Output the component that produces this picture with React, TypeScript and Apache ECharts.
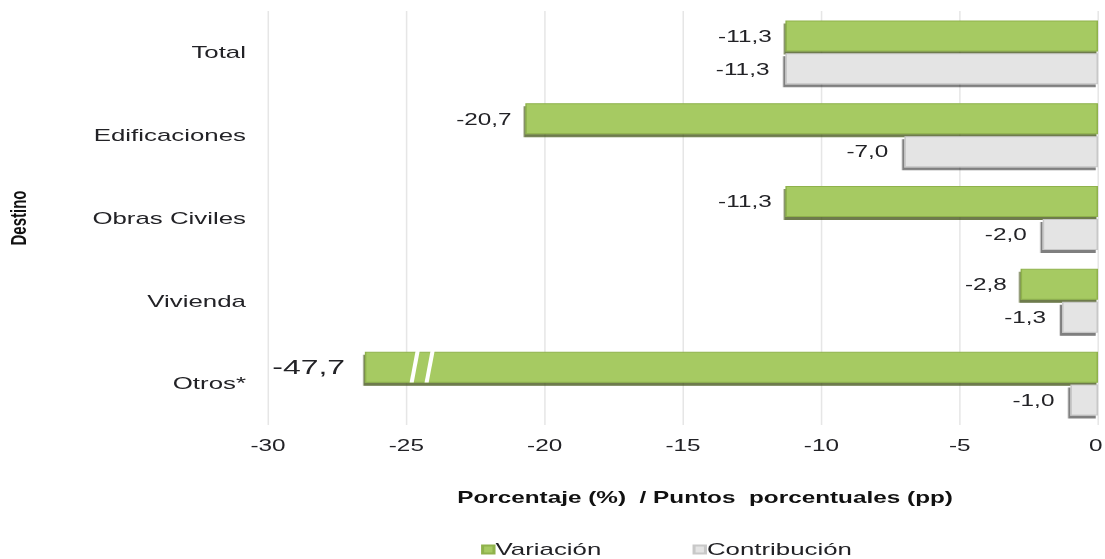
import React, { useEffect, useRef } from "react";
import * as echarts from "echarts";

const categories = ["Total", "Edificaciones", "Obras Civiles", "Vivienda", "Otros*"];
const variacion = [-11.3, -20.7, -11.3, -2.8, -47.7];
const contribucion = [-11.3, -7.0, -2.0, -1.3, -1.0];
const displayCap = -26.5; // bars beyond this value are drawn truncated with a break mark
const breakAt = [-24.7, -24.16];
const xTicks = { min: -30, max: 0, interval: 5 };

// the reference picture is stretched horizontally; reproduce by drawing in a narrower frame
const STRETCH = 1.52;
const PAGE_W = 1105;
const PAGE_H = 559;
const W = PAGE_W / STRETCH;

const fmt = (v: number) => v.toFixed(1).replace(".", ",");

export default function App() {
  const ref = useRef<HTMLDivElement>(null);
  useEffect(() => {
    if (!ref.current) return;
    const chart = echarts.init(ref.current, null, { renderer: "svg" });
    const font = "Liberation Sans, Arial, sans-serif";
    const textColor = "#222226";
    const varData = variacion.map((v) => ({
      value: Math.max(v, displayCap),
      raw: v,
      label: v < displayCap ? { fontSize: 21, distance: 13 } : undefined,
    }));
    chart.setOption({
      animation: false,
      grid: {
        left: 268 / STRETCH,
        right: 7 / STRETCH,
        top: 11,
        height: 414,
        outerBoundsMode: "none",
        containLabel: false,
      },
      xAxis: {
        type: "value",
        min: xTicks.min,
        max: xTicks.max,
        interval: xTicks.interval,
        axisLine: { show: false },
        axisTick: { show: false },
        splitLine: { lineStyle: { color: "#E6E6E6", width: 1 } },
        axisLabel: {
          color: textColor,
          fontSize: 16,
          fontFamily: font,
          margin: 12,
          formatter: (v: number) => (v === 0 ? "{z|0}" : String(v)),
          rich: { z: { color: textColor, fontSize: 16, fontFamily: font, padding: [0, 3, 0, 0] } },
        },
        name: "Porcentaje (%)  / Puntos  porcentuales (pp)",
        nameLocation: "middle",
        nameGap: 64,
        nameTextStyle: {
          color: "#111",
          fontSize: 16,
          fontWeight: "bold",
          fontFamily: font,
          padding: [0, 0, 0, 29],
        },
      },
      yAxis: {
        type: "category",
        data: categories,
        inverse: true,
        position: "left",
        axisLine: { show: false, onZero: false },
        axisTick: { show: false },
        splitLine: { show: false },
        axisLabel: { color: textColor, fontSize: 17, fontFamily: font, margin: 14.5 },
        name: "Destino",
        nameLocation: "middle",
        nameRotate: 90,
        nameGap: 156.5,
        nameTextStyle: {
          color: "#111",
          fontSize: 15,
          fontWeight: "bold",
          fontFamily: font,
        },
      },
      legend: {
        bottom: -4,
        left: 311.5,
        itemWidth: 7.5,
        itemHeight: 8,
        itemGap: 60,
        icon: "rect",
        textStyle: { color: textColor, fontSize: 17, fontFamily: font, padding: [0, 0, 0, -4] },
        data: ["Variación", "Contribución"],
      },
      series: [
        {
          name: "Variación",
          type: "bar",
          data: varData,
          barWidth: 31,
          barGap: "6%",
          itemStyle: {
            color: "#A6CA62",
            borderColor: "#8FB24C",
            borderWidth: 1,
            shadowColor: "rgba(60,80,20,0.75)",
            shadowOffsetY: 3,
            shadowOffsetX: -1,
            shadowBlur: 1,
          },
          label: {
            show: true,
            position: "left",
            distance: 9,
            color: textColor,
            fontSize: 16,
            fontFamily: font,
            formatter: (p: any) => fmt(p.data.raw),
          },
        },
        {
          name: "Contribución",
          type: "bar",
          data: contribucion,
          barWidth: 31,
          itemStyle: {
            color: "#E4E4E4",
            borderColor: "#C8C8C8",
            borderWidth: 1,
            shadowColor: "rgba(0,0,0,0.5)",
            shadowOffsetY: 3,
            shadowOffsetX: -1.5,
            shadowBlur: 1,
          },
          label: {
            show: true,
            position: "left",
            distance: 10.5,
            color: textColor,
            fontSize: 16,
            fontFamily: font,
            formatter: (p: any) => fmt(p.value),
          },
        },
      ],
    });

    // break marks over truncated bars
    const graphics: any[] = [];
    variacion.forEach((v, i) => {
      if (v >= displayCap) return;
      const c = chart.convertToPixel({ gridIndex: 0 }, [0, categories[i]]) as number[];
      const yTop = c[1] - 38;
      const yBot = c[1] - 1;
      breakAt.forEach((b) => {
        const p = chart.convertToPixel({ gridIndex: 0 }, [b, categories[i]]) as number[];
        const x = p[0];
        graphics.push({
          type: "polygon",
          z: 100,
          shape: {
            points: [
              [x - 3.3, yBot],
              [x - 0.6, yBot],
              [x + 4.0, yTop],
              [x + 1.3, yTop],
            ],
          },
          style: { fill: "#ffffff" },
        });
      });
    });
    chart.setOption({ graphic: graphics });

    return () => chart.dispose();
  }, []);
  return (
    <div
      style={{
        position: "fixed",
        left: 0,
        top: 0,
        width: PAGE_W,
        height: PAGE_H,
        overflow: "hidden",
        background: "#fff",
      }}
    >
      <div
        ref={ref}
        style={{
          width: W,
          height: PAGE_H,
          transform: `scaleX(${STRETCH})`,
          transformOrigin: "0 0",
        }}
      />
    </div>
  );
}
